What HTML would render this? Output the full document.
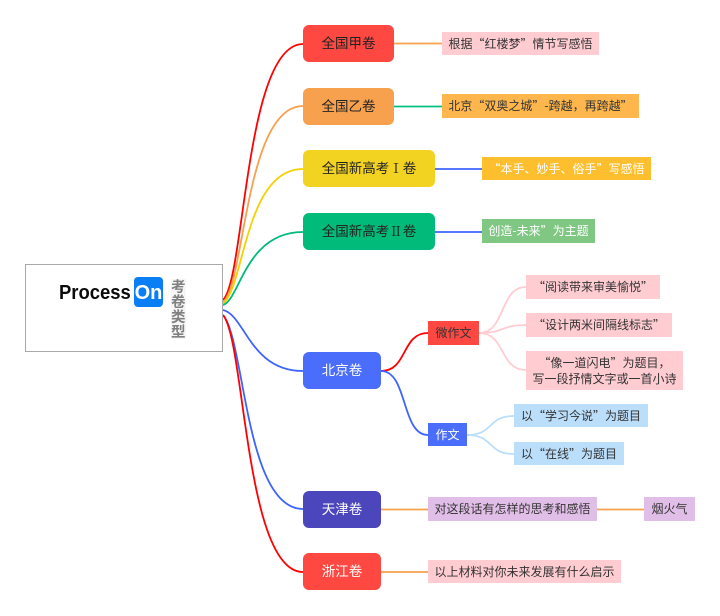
<!DOCTYPE html>
<html lang="zh-CN"><head><meta charset="utf-8">
<style>
html,body{margin:0;padding:0;background:#fff}
#c{position:relative;width:720px;height:616px;overflow:hidden;background:#fff;font-family:"Noto Sans CJK SC","WenQuanYi Zen Hei",sans-serif}
svg{position:absolute;left:0;top:0}
.n,.l{position:absolute;display:flex;align-items:center;justify-content:center;box-sizing:border-box;white-space:pre;text-align:center}
.n{font-size:13.5px;border-radius:6px;height:37px;color:#222;padding-bottom:3px}
.l{font-size:12px;color:#333;height:24px;line-height:16px}
.w{color:#fff}
.s{font-family:"Noto Serif CJK SC",serif}
</style></head><body><div id="c">
<svg width="720" height="616" fill="none" stroke-width="1.8">
<path d="M223 300C245 280 245 44 303 44" stroke="#ff0000"/>
<path d="M223 302C245 285 245 106 303 106" stroke="#f7a04d"/>
<path d="M223 304C245 285 245 169 303 169" stroke="#f5d000"/>
<path d="M223 305C240 300 245 232 303 232" stroke="#00bb79"/>
<path d="M223 310C245 315 250 371 303 371" stroke="#3d64ff"/>
<path d="M223 315C245 340 245 509 303 509" stroke="#3d64ff"/>
<path d="M223 315C245 340 245 572 303 572" stroke="#ff0000"/>
<path d="M394 43.500H442" stroke="#f7a04d"/>
<path d="M394 106.500H442" stroke="#00c07f"/>
<path d="M435 169H482" stroke="#3d64ff"/>
<path d="M435 232H482" stroke="#3d64ff"/>
<path d="M381 371C408 371 401 333 428 333" stroke="#ff0000"/>
<path d="M381 371C408 371 401 435 428 435" stroke="#3d64ff"/>
<path d="M479 333C506 333 499 287 526 287" stroke="#ffccd2"/>
<path d="M479 333C506 333 499 325 526 325" stroke="#ffccd2"/>
<path d="M479 333C506 333 499 370 526 370" stroke="#ffccd2"/>
<path d="M467 435C494 435 487 416 514 416" stroke="#bbdefb"/>
<path d="M467 435C494 435 487 454 514 454" stroke="#bbdefb"/>
<path d="M381 509.500H428M597 509.500H644" stroke="#f7a04d"/>
<path d="M381 572H428" stroke="#f7a04d"/>
</svg>

<div style="position:absolute;left:25px;top:264px;width:198px;height:88px;box-sizing:border-box;border:1px solid #aaa;background:#fff"></div>
<div style="position:absolute;left:59px;top:279px;font:bold 20.5px/28px 'Liberation Sans',sans-serif;color:#0b0b0b;transform:scaleX(.9);transform-origin:left top">Process</div>
<div style="position:absolute;left:134px;top:277px;width:29px;height:30px;border-radius:4px;background:#0a7ef5;color:#fff;font:bold 20px/32px 'Liberation Sans',sans-serif;text-align:center">On</div>
<div style="position:absolute;left:171px;top:279px;width:15px;font-size:14.5px;line-height:15px;font-weight:700;color:#808080;background:#f6f6f6">考<br>卷<br>类<br>型</div>

<div class="n" style="left:303px;top:25px;width:91px;background:#ff4842">全国甲卷</div>
<div class="n" style="left:303px;top:88px;width:91px;background:#f7a04d">全国乙卷</div>
<div class="n" style="left:303px;top:150px;width:132px;background:#f3d321">全国新高考<span class="s">Ⅰ</span>卷</div>
<div class="n" style="left:303px;top:213px;width:132px;background:#00bb79">全国新高考<span class="s">Ⅱ</span>卷</div>
<div class="n w" style="left:303px;top:352px;width:78px;background:#4a6dfb">北京卷</div>
<div class="n w" style="left:303px;top:491px;width:78px;background:#4c46bd">天津卷</div>
<div class="n w" style="left:303px;top:553px;width:78px;background:#ff4842">浙江卷</div>

<div class="l" style="left:442px;top:32px;width:157px;height:23px;background:#ffccd2">根据“红楼梦”情节写感悟</div>
<div class="l" style="left:442px;top:94px;width:197px;background:#ffb74d">北京“双奥之城”-跨越，再跨越”</div>
<div class="l w" style="left:482px;top:157px;width:169px;height:23px;background:#fdbf2d">“本手、妙手、俗手”写感悟</div>
<div class="l w" style="left:482px;top:219px;width:113px;background:#81c784">创造-未来”为主题</div>
<div class="l" style="left:428px;top:321px;width:51px;font-size:12px;background:#ff4842">微作文</div>
<div class="l w" style="left:428px;top:423px;width:39px;height:23px;background:#4a6dfb">作文</div>
<div class="l" style="left:526px;top:275px;width:134px;background:#ffccd2">“阅读带来审美愉悦”</div>
<div class="l" style="left:526px;top:313px;width:146px;background:#ffccd2">“设计两米间隔线标志”</div>
<div class="l" style="left:526px;top:351px;width:157px;height:39px;background:#ffccd2">“像一道闪电”为题目，
写一段抒情文字或一首小诗</div>
<div class="l" style="left:514px;top:404px;width:134px;height:23px;background:#bbdefb">以“学习今说”为题目</div>
<div class="l" style="left:514px;top:442px;width:110px;height:23px;background:#bbdefb">以“在线”为题目</div>
<div class="l" style="left:428px;top:497px;width:169px;background:#e1bee7">对这段话有怎样的思考和感悟</div>
<div class="l" style="left:644px;top:497px;width:51px;background:#e1bee7">烟火气</div>
<div class="l" style="left:428px;top:560px;width:193px;height:23px;background:#ffccd2">以上材料对你未来发展有什么启示</div>
</div></body></html>
